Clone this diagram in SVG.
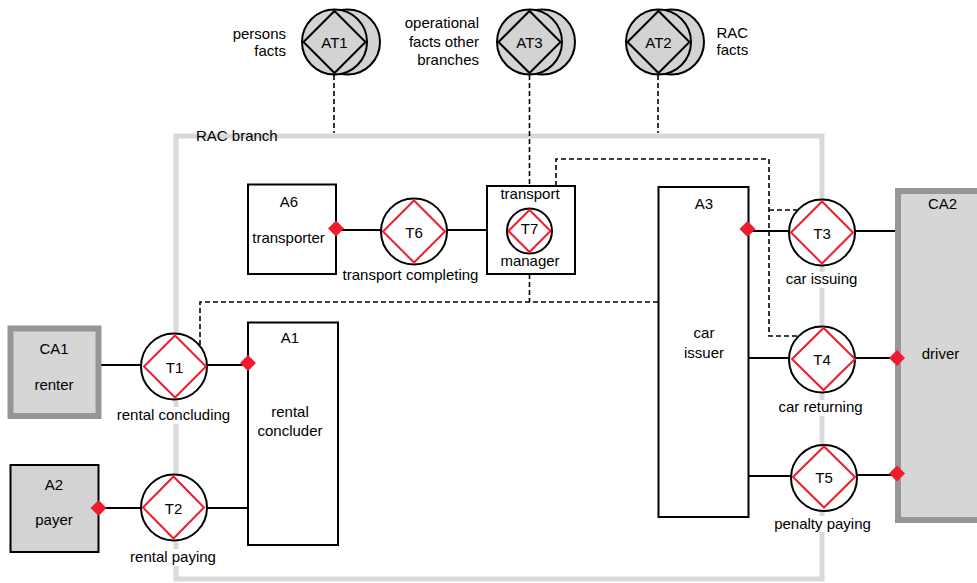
<svg xmlns="http://www.w3.org/2000/svg" width="977" height="583" viewBox="0 0 977 583">
<defs>
<style>
text{font-family:"Liberation Sans",Arial,sans-serif;font-size:15px;fill:#000}
.m{text-anchor:middle}
.e{text-anchor:end}
.box{fill:#fff;stroke:#000;stroke-width:2}
.gbox{fill:#d3d3d3;stroke:#000;stroke-width:2}
.cbox{fill:#d6d6d6;stroke:#969696;stroke-width:6}
.tc{fill:#fff;stroke:#000;stroke-width:2}
.td{fill:none;stroke:#ee1c2e;stroke-width:2}
.atc{fill:#d3d3d3;stroke:#000;stroke-width:2}
.atd{fill:none;stroke:#000;stroke-width:2}
.ln{stroke:#000;stroke-width:2;fill:none}
.dash{stroke:#000;stroke-width:1.6;stroke-dasharray:5 3;fill:none}
.mk{fill:#ee1c2e}
.bg{fill:#fff}
</style>
</defs>
<rect id="rac-branch" x="176" y="136" width="646" height="443" fill="none" stroke="#d9d9d9" stroke-width="5"/>
<text x="196" y="141">RAC branch</text>
<g id="connectors">
<path class="dash" d="M334 75V133"/>
<path class="dash" d="M658 75V133"/>
<path class="dash" d="M529.5 75V186"/>
<path class="dash" d="M529.5 274V302"/>
<path class="dash" d="M200 345V302H658"/>
<path class="dash" d="M556 186V159H769V336H798"/>
<path class="dash" d="M769 210H797"/>
<path class="ln" d="M101 365H141"/>
<path class="ln" d="M207 365H248"/>
<path class="ln" d="M99 508H141"/>
<path class="ln" d="M207 508H248"/>
<path class="ln" d="M336 230H381"/>
<path class="ln" d="M447 230H487"/>
<path class="ln" d="M748 231H789"/>
<path class="ln" d="M855 231H895"/>
<path class="ln" d="M748 358H789"/>
<path class="ln" d="M855 358H895"/>
<path class="ln" d="M748 476H791"/>
<path class="ln" d="M857 475H895"/>
</g>
<g id="AT1">
<circle class="atc" cx="347.5" cy="42" r="32.5"/>
<circle class="atc" cx="334.5" cy="42" r="32.5"/>
<polygon class="atd" points="303.5,42 334.5,11 365.5,42 334.5,73"/>
<text class="m" x="334.5" y="47.5">AT1</text>
<text class="e" x="286" y="39">persons</text>
<text class="e" x="286" y="55.5">facts</text>
</g>
<g id="AT3">
<circle class="atc" cx="542.5" cy="42" r="32.5"/>
<circle class="atc" cx="529.5" cy="42" r="32.5"/>
<polygon class="atd" points="498.5,42 529.5,11 560.5,42 529.5,73"/>
<text class="m" x="529.5" y="47.5">AT3</text>
<text class="e" x="479" y="28">operational</text>
<text class="e" x="479" y="46.5">facts other</text>
<text class="e" x="479" y="65">branches</text>
</g>
<g id="AT2">
<circle class="atc" cx="671.5" cy="42" r="32.5"/>
<circle class="atc" cx="658.5" cy="42" r="32.5"/>
<polygon class="atd" points="627.5,42 658.5,11 689.5,42 658.5,73"/>
<text class="m" x="658.5" y="47.5">AT2</text>
<text x="716.5" y="38">RAC</text>
<text x="716.5" y="55">facts</text>
</g>
<g id="A6">
<rect class="box" x="248" y="184.5" width="88" height="89.5"/>
<text class="m" x="289" y="207">A6</text>
<text class="m" x="288.5" y="243">transporter</text>
<polygon class="mk" points="328,228.5 336,220.5 344,228.5 336,236.5"/>
</g>
<g id="T6">
<circle class="tc" cx="414" cy="231.5" r="33"/>
<polygon class="td" points="383,231.5 414,200.5 445,231.5 414,262.5"/>
<text class="m" x="414" y="237.5">T6</text>
<text class="m" x="410.5" y="280">transport completing</text>
</g>
<g id="T7">
<rect class="box" x="487" y="186" width="88" height="88"/>
<text class="m" x="530" y="198.5">transport</text>
<text class="m" x="530" y="265.5">manager</text>
<circle class="tc" cx="529.5" cy="231" r="22.5"/>
<polygon class="td" points="508.5,231 529.5,210 550.5,231 529.5,252"/>
<text class="m" x="529.5" y="233.5">T7</text>
</g>
<g id="A3">
<rect class="box" x="658.5" y="187" width="90" height="330"/>
<text class="m" x="704" y="208.5">A3</text>
<text class="m" x="704" y="338">car</text>
<text class="m" x="704" y="358">issuer</text>
<polygon class="mk" points="739.5,229 747.5,221 755.5,229 747.5,237"/>
</g>
<g id="T3">
<circle class="tc" cx="822" cy="232.5" r="33"/>
<polygon class="td" points="791,232.5 822,201.5 853,232.5 822,263.5"/>
<text class="m" x="822" y="238.5">T3</text>
<rect class="bg" x="785" y="272" width="74" height="16"/>
<text class="m" x="821.5" y="284">car issuing</text>
</g>
<g id="T4">
<circle class="tc" cx="822" cy="359.5" r="33"/>
<polygon class="td" points="792,359 823.5,328 855,359 823.5,390"/>
<text class="m" x="822" y="365">T4</text>
<rect class="bg" x="777" y="400" width="88" height="16"/>
<text class="m" x="820.5" y="412">car returning</text>
</g>
<g id="T5">
<circle class="tc" cx="824" cy="478" r="33"/>
<polygon class="td" points="793,477 824,446.5 855,477 824,507.5"/>
<text class="m" x="824" y="483">T5</text>
<rect class="bg" x="773" y="516" width="100" height="16"/>
<text class="m" x="822.5" y="528.5">penalty paying</text>
</g>
<g id="CA2">
<rect class="cbox" x="898" y="191" width="90" height="329"/>
<text class="m" x="942.5" y="208.5">CA2</text>
<text class="m" x="940.5" y="358.5">driver</text>
<polygon class="mk" points="889,358 897,350 905,358 897,366"/>
<polygon class="mk" points="889,473.5 897,465.5 905,473.5 897,481.5"/>
</g>
<g id="CA1">
<rect class="cbox" x="10.5" y="328.5" width="88" height="87.5"/>
<text class="m" x="54" y="353.5">CA1</text>
<text class="m" x="54" y="390">renter</text>
</g>
<g id="T1">
<circle class="tc" cx="174" cy="366.5" r="33"/>
<polygon class="td" points="144,366.5 175,335.5 206,366.5 175,397.5"/>
<text class="m" x="174.5" y="373">T1</text>
<rect class="bg" x="116" y="407" width="116" height="17"/>
<text class="m" x="173.5" y="420">rental concluding</text>
</g>
<g id="A1">
<rect class="box" x="248" y="322.5" width="90" height="222.5"/>
<text class="m" x="290" y="342.5">A1</text>
<text class="m" x="290" y="416.5">rental</text>
<text class="m" x="290" y="436">concluder</text>
<polygon class="mk" points="240,363 248,355 256,363 248,371"/>
</g>
<g id="A2">
<rect class="gbox" x="10.5" y="465" width="88" height="87"/>
<text class="m" x="54" y="489.5">A2</text>
<text class="m" x="54" y="525">payer</text>
<polygon class="mk" points="90.5,508 98.5,500 106.5,508 98.5,516"/>
</g>
<g id="T2">
<circle class="tc" cx="174" cy="507.5" r="33"/>
<polygon class="td" points="143,507.5 173.5,476.5 204,507.5 173.5,538.5"/>
<text class="m" x="173.5" y="513.5">T2</text>
<rect class="bg" x="128" y="549" width="90" height="17"/>
<text class="m" x="173" y="562">rental paying</text>
</g>
</svg>
